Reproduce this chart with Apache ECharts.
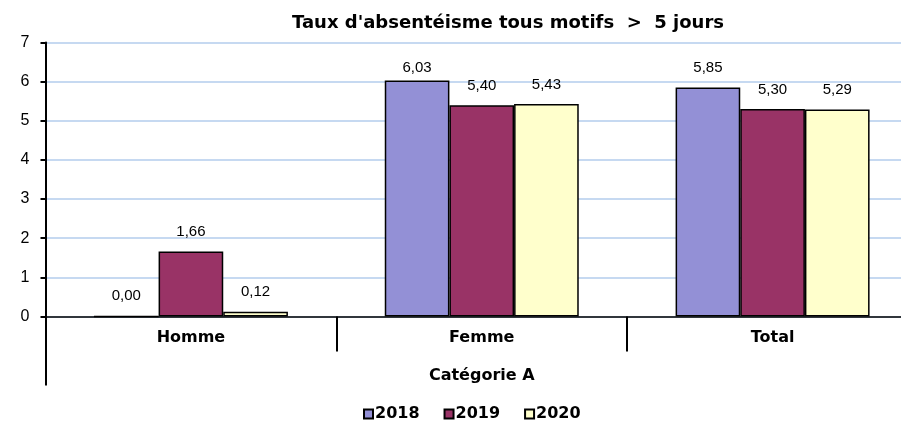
<!DOCTYPE html>
<html>
<head>
<meta charset="utf-8">
<script src="https://cdn.jsdelivr.net/npm/echarts@6/dist/echarts.min.js"></script>
<style>
html,body{margin:0;padding:0;background:#fff;}
#c{width:901px;height:422px;}
</style>
</head>
<body>
<div id="c"></div>
<script>
const titleText = "Taux d'absentéisme tous motifs  >  5 jours";
const categories = ["Homme", "Femme", "Total"];
const groupLabel = ["Catégorie A"];
const seriesNames = ["2018", "2019", "2020"];
const values2018 = [0.00, 6.03, 5.85];
const values2019 = [1.66, 5.40, 5.30];
const values2020 = [0.12, 5.43, 5.29];
const yTicks = [0, 1, 2, 3, 4, 5, 6, 7];

const colors = ["#9390D6", "#993366", "#FFFFCC"];
const FONT = "Liberation Sans, Arial, sans-serif";
const BOLDFONT = "DejaVu Sans, Liberation Sans, sans-serif";

function fmt(p){ return Number(p.value).toFixed(2).replace('.', ','); }

function mkSeries(name, vals, color){
  return {
    name: name,
    type: 'bar',
    xAxisIndex: 0,
    barGap: '0%',
    barCategoryGap: '33.3%',
    itemStyle: { color: color, borderColor: '#000', borderWidth: 1.5 },
    label: {
      show: true, position: 'top', distance: 12,
      fontFamily: FONT, fontSize: 15, color: '#000',
      formatter: fmt
    },
    data: vals.map(v => (v > 6 ? { value: v, label: { distance: 5 } } : v)),
    emphasis: { disabled: true }
  };
}

const chart = echarts.init(document.getElementById('c'), null, { renderer: 'canvas' });
chart.setOption({
  animation: false,
  backgroundColor: '#fff',
  title: {
    text: titleText,
    left: 503, top: 9, textAlign: 'center',
    textStyle: { fontFamily: BOLDFONT, fontWeight: 'bold', fontSize: 18, color: '#000' }
  },
  legend: {
    data: seriesNames,
    left: 358, top: 401,
    icon: 'rect', itemWidth: 9, itemHeight: 9, itemGap: 24,
    textStyle: { fontFamily: BOLDFONT, fontWeight: 'bold', fontSize: 16, color: '#000', padding: [0, 0, 0, -3] }
  },
  grid: {
    left: 45.5, width: 872.5, top: 42.5, bottom: 105.5,
    containLabel: false, outerBoundsMode: 'none'
  },
  xAxis: [
    {
      type: 'category', data: categories, position: 'bottom',
      axisLine: { show: true, lineStyle: { color: '#000', width: 1.5 } },
      axisTick: { show: true, length: 35, interval: 0, lineStyle: { color: '#000', width: 2 } },
      axisLabel: { fontFamily: BOLDFONT, fontWeight: 'bold', fontSize: 16, color: '#000', margin: 13 },
      splitLine: { show: false }
    },
    {
      type: 'category', data: groupLabel, position: 'bottom', offset: 0,
      axisLine: { show: false },
      axisTick: { show: true, length: 69, lineStyle: { color: '#000', width: 2 } },
      axisLabel: { fontFamily: BOLDFONT, fontWeight: 'bold', fontSize: 16, color: '#000', margin: 51 },
      splitLine: { show: false }
    }
  ],
  yAxis: {
    type: 'value', min: yTicks[0], max: yTicks[yTicks.length - 1], interval: 1,
    axisLine: { show: true, lineStyle: { color: '#000', width: 2 } },
    axisTick: { show: true, length: 5, lineStyle: { color: '#000', width: 2 } },
    axisLabel: { fontFamily: FONT, fontSize: 16, color: '#000', margin: 16 },
    splitLine: { show: true, lineStyle: { color: '#C6D9F1', width: 2 } }
  },
  series: [
    mkSeries(seriesNames[0], values2018, colors[0]),
    mkSeries(seriesNames[1], values2019, colors[1]),
    mkSeries(seriesNames[2], values2020, colors[2])
  ]
});
</script>
</body>
</html>
